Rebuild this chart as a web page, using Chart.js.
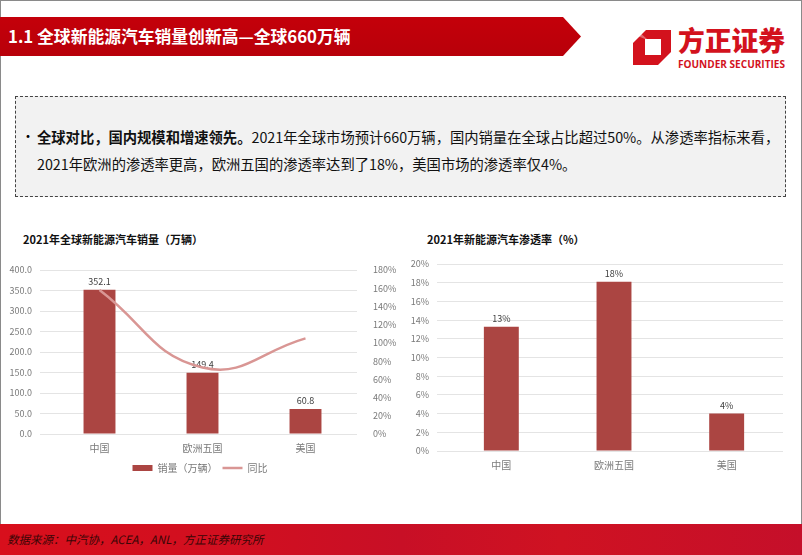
<!DOCTYPE html>
<html>
<head>
<meta charset="utf-8">
<script src="https://cdn.jsdelivr.net/npm/chart.js@4.4.1/dist/chart.umd.min.js"></script>
<style>
  html, body { margin: 0; padding: 0; background: #fff; }
  body { width: 802px; height: 555px; position: relative; overflow: hidden;
    font-family: "Noto Sans CJK SC", "Noto Sans", sans-serif; }
  .frame { position: absolute; left: 0; top: 0; width: 800px; height: 555px;
    border-left: 1px solid #8a8a8a; border-right: 1px solid #8a8a8a; border-top: 1px solid #8a8a8a; box-sizing: content-box; }
  .banner { position: absolute; left: 0; top: 17px; width: 582px; height: 39px; }
  .banner-title { position: absolute; left: 8px; top: 17px; height: 39px; line-height: 39px;
    color: #fff; font-weight: bold; font-size: 16.8px; white-space: nowrap; }
  .logo { position: absolute; left: 628px; top: 22px; }
  .box { position: absolute; left: 15px; top: 96px; width: 771px; height: 101px;
    background: #f2f2f2; border: 1.5px dashed #444; box-sizing: border-box; overflow: hidden; }
  .box p { margin: 0; position: absolute; white-space: nowrap; font-size: 14.3px; color: #111; }
  .bullet { position: absolute; left: 5px; top: 28px; font-size: 14px; }
  .chart-title { position: absolute; font-weight: bold; font-size: 11px; color: #111; white-space: nowrap; }
  .footer { position: absolute; left: 0; top: 524px; width: 802px; height: 31px;
    background: linear-gradient(90deg, #d80f1c 0%, #d10f20 30%, #c80f26 50%, #cf1222 70%, #c50f2a 100%); }
  .footer span { position: absolute; left: 7px; top: 7px; font-size: 11.5px; font-style: italic; color: #3a0606; white-space: nowrap; }
</style>
</head>
<body>
<div class="frame"></div>

<svg class="banner" width="582" height="39" viewBox="0 0 582 39">
  <defs>
    <linearGradient id="bg" x1="0" y1="0" x2="0" y2="1">
      <stop offset="0" stop-color="#c4000a"/>
      <stop offset="1" stop-color="#b8000a"/>
    </linearGradient>
  </defs>
  <polygon points="0,0 563,0 581,19.5 563,39 0,39" fill="url(#bg)"/>
</svg>
<div class="banner-title">1.1 全球新能源汽车销量创新高—全球660万辆</div>

<svg class="logo" width="170" height="50" viewBox="0 0 170 50">
  <polygon points="18,8 43,8 43,30 30,43 5,43 5,21" fill="#d3121d"/>
  <rect x="17" y="17" width="16" height="16" fill="#fff"/>
  <polygon points="17,17 19,17 9,8 5,12" fill="#fff" opacity="0.35"/>
  <text x="50" y="29" font-size="27" font-weight="900" fill="#d3121d"
        font-family="Noto Sans CJK SC" textLength="107" lengthAdjust="spacingAndGlyphs">方正证券</text>
  <text x="50" y="46" font-size="11" font-weight="bold" fill="#d3121d"
        font-family="Open Sans" textLength="107" lengthAdjust="spacingAndGlyphs">FOUNDER SECURITIES</text>
</svg>

<div class="box">
  <span class="bullet">•</span>
  <p style="left:21px; top:29px;"><b>全球对比，国内规模和增速领先。</b>2021年全球市场预计660万辆，国内销量在全球占比超过50%。从渗透率指标来看，</p>
  <p style="left:21px; top:56px;">2021年欧洲的渗透率更高，欧洲五国的渗透率达到了18%，美国市场的渗透率仅4%。</p>
</div>

<div class="chart-title" style="left:23px; top:231px;">2021年全球新能源汽车销量（万辆）</div>
<div class="chart-title" style="left:427px; top:231px;">2021年新能源汽车渗透率（%）</div>

<div style="position:absolute; left:0; top:240px; width:400px; height:243px;"><canvas id="salesChart"></canvas></div>
<div style="position:absolute; left:400px; top:240px; width:400px; height:245px;"><canvas id="rateChart"></canvas></div>

<div class="footer"><span>数据来源：中汽协，ACEA，ANL，方正证券研究所</span></div>

<script>
  /* ---- data ---- */
  const regions = ['中国', '欧洲五国', '美国'];
  const salesValues = [352.1, 149.4, 60.8];     // 万辆
  const yoyValues = [158, 73, 105];             // %
  const rateValues = [13.3, 18.1, 4.0];         // %
  const salesTicks = { min: 0, max: 400, step: 50 };
  const yoyTicks = { min: 0, max: 180, step: 20 };
  const rateTicks = { min: 0, max: 20, step: 2 };

  const BAR = '#ab4542';
  const LINE = '#d99694';
  const GRID = '#e4e4e4';
  const TICK = '#7a7a7a';
  const FONT = '"Noto Sans CJK SC", "Noto Sans", sans-serif';

  Chart.defaults.font.family = FONT;
  Chart.defaults.color = TICK;
  Chart.defaults.animation = false;

  /* value labels above the bars, drawn right after the bar dataset (before the line) */
  const barLabels = {
    id: 'barLabels',
    afterDatasetDraw(chart, args, opts) {
      const ds = chart.data.datasets[args.index];
      if (ds.type === 'line') return;
      const ctx = chart.ctx;
      ctx.save();
      ctx.font = '9px ' + FONT;
      ctx.fillStyle = '#404040';
      ctx.textAlign = 'center';
      ctx.textBaseline = 'bottom';
      args.meta.data.forEach((el, i) => {
        ctx.fillText(opts.format(ds.data[i]), el.x, el.y - 4);
      });
      ctx.restore();
    },
  };

  const fixWidth = (w) => (scale) => { scale.width = w; };

  new Chart(document.getElementById('salesChart'), {
    type: 'bar',
    data: {
      labels: regions,
      datasets: [
        {
          type: 'bar', label: '销量（万辆）', data: salesValues, yAxisID: 'y',
          backgroundColor: BAR, borderWidth: 0, categoryPercentage: 1, barPercentage: 0.31,
          pointStyle: 'rect', order: 1,
        },
        {
          type: 'line', label: '同比', data: yoyValues, yAxisID: 'y2',
          borderColor: LINE, backgroundColor: LINE, borderWidth: 2.5, tension: 0.45,
          pointRadius: 0, pointStyle: 'line', order: 0,
        },
      ],
    },
    options: {
      responsive: true, maintainAspectRatio: false,
      layout: { padding: { top: 30, left: 0, right: 0, bottom: 0 } },
      plugins: {
        legend: {
          position: 'bottom',
          labels: {
            usePointStyle: true, pointStyleWidth: 20, boxHeight: 6, padding: 5,
            color: '#7a7a7a', font: { size: 10 },
            sort: (a, b) => a.datasetIndex - b.datasetIndex,
          },
        },
        tooltip: { enabled: false },
        barLabels: { format: (v) => v.toFixed(1) },
      },
      scales: {
        x: {
          grid: { display: false }, border: { display: false },
          ticks: { font: { size: 10 }, color: '#7a7a7a', padding: 0 },
          afterFit: (scale) => { scale.height += 4; },
        },
        y: {
          min: salesTicks.min, max: salesTicks.max,
          ticks: { stepSize: salesTicks.step, font: { size: 9 }, padding: 8, callback: (v) => v.toFixed(1) },
          grid: { color: GRID }, border: { display: false },
          afterFit: fixWidth(48),
        },
        y2: {
          position: 'right', min: yoyTicks.min, max: yoyTicks.max,
          ticks: { stepSize: yoyTicks.step, font: { size: 9 }, padding: 8, callback: (v) => v + '%' },
          grid: { display: false }, border: { display: false },
          afterFit: fixWidth(43),
        },
      },
    },
    plugins: [barLabels],
  });

  new Chart(document.getElementById('rateChart'), {
    type: 'bar',
    data: {
      labels: regions,
      datasets: [{
        label: '渗透率', data: rateValues, backgroundColor: BAR, borderWidth: 0,
        categoryPercentage: 1, barPercentage: 0.31,
      }],
    },
    options: {
      responsive: true, maintainAspectRatio: false,
      layout: { padding: { top: 24, left: 0, right: 17, bottom: 14 } },
      plugins: {
        legend: { display: false },
        tooltip: { enabled: false },
        barLabels: { format: (v) => Math.round(v) + '%' },
      },
      scales: {
        x: {
          grid: { display: false }, border: { display: false },
          ticks: { font: { size: 10 }, color: '#7a7a7a', padding: 0 },
        },
        y: {
          min: rateTicks.min, max: rateTicks.max,
          ticks: { stepSize: rateTicks.step, font: { size: 9 }, padding: 8, callback: (v) => v + '%' },
          grid: { color: GRID }, border: { display: false },
          afterFit: fixWidth(45),
        },
      },
    },
    plugins: [barLabels],
  });
</script>
</body>
</html>
